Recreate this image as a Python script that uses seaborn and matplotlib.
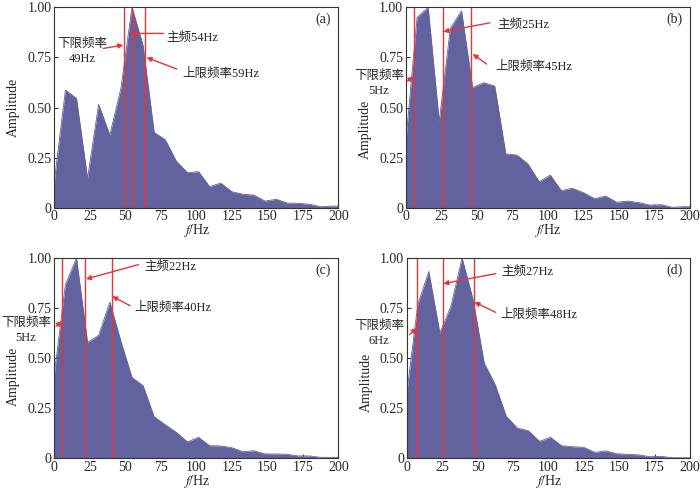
import numpy as np
import pandas as pd
import matplotlib
matplotlib.use("Agg")
import matplotlib.pyplot as plt
import seaborn as sns

# Frequency axis (Hz)
freq = [0, 7.8, 15.6, 23.4, 31.2, 39.1, 46.9, 54.7, 62.5, 70.3, 78.1, 85.9, 93.8,
        101.6, 109.4, 117.2, 125.0, 132.8, 140.6, 148.4, 156.3, 164.1, 171.9,
        179.7, 187.5, 195.3, 200]

amp_a = [0.13, 0.587, 0.546, 0.146, 0.516, 0.363, 0.596, 1.0, 0.81, 0.376, 0.34,
         0.233, 0.175, 0.18, 0.105, 0.123, 0.08, 0.067, 0.063, 0.033, 0.042, 0.023,
         0.022, 0.017, 0.005, 0.008, 0.008]
amp_b = [0.34, 0.95, 1.0, 0.43, 0.895, 0.983, 0.60, 0.624, 0.607, 0.268, 0.263,
         0.218, 0.13, 0.163, 0.085, 0.097, 0.075, 0.045, 0.058, 0.027, 0.033, 0.025,
         0.013, 0.015, 0.002, 0.005, 0.005]
amp_c = [0.42, 0.867, 1.0, 0.579, 0.614, 0.78, 0.584, 0.404, 0.363, 0.208, 0.168,
         0.13, 0.082, 0.105, 0.063, 0.062, 0.053, 0.033, 0.038, 0.022, 0.022, 0.02,
         0.012, 0.012, 0.005, 0.005, 0.005]
amp_d = [0.32, 0.767, 0.933, 0.626, 0.759, 1.0, 0.792, 0.476, 0.368, 0.21, 0.151,
         0.138, 0.085, 0.105, 0.063, 0.058, 0.055, 0.03, 0.037, 0.023, 0.02, 0.017,
         0.008, 0.01, 0.003, 0.003, 0.003]

panel_labels = ["(a)", "(b)", "(c)", "(d)"]
# vertical marker lines: lower limit, main freq, upper limit
lines_a = [49, 54.5, 64]
lines_b = [5.4, 25.8, 45.8]
lines_c = [5.4, 21.8, 40.4]
lines_d = [7.1, 25.6, 47.8]

lower_text = ["下限频率\n49Hz", "下限频率\n5Hz", "下限频率\n5Hz", "下限频率\n6Hz"]
main_text = ["主频54Hz", "主频25Hz", "主频22Hz", "主频27Hz"]
upper_text = ["上限频率59Hz", "上限频率45Hz", "上限频率40Hz", "上限频率48Hz"]

sns.set_style("ticks")
plt.rcParams["font.family"] = ["Liberation Serif", "Noto Sans CJK SC"]
plt.rcParams["mathtext.fontset"] = "stix"
plt.rcParams["xtick.direction"] = "in"
plt.rcParams["ytick.direction"] = "in"

FILL = "#62629f"
RED = "#e8333a"

fig = plt.figure(figsize=(7.0, 4.91), dpi=100)
positions = [
    [0.0776, 0.577, 0.4057, 0.408],
    [0.580, 0.577, 0.4057, 0.408],
    [0.0776, 0.0665, 0.4057, 0.408],
    [0.581, 0.0665, 0.4046, 0.408],
]
amps = [amp_a, amp_b, amp_c, amp_d]
vlines = [lines_a, lines_b, lines_c, lines_d]
ylabel_pos = [0.5, 0.39, 0.41, 0.38]

# annotation layout (data coords): (text xy, arrow tail, arrow head)
lower_ann = [
    dict(txt=(20, 0.78), tail=(34.5, 0.795), head=(48.6, 0.812)),
    dict(txt=(-19, 0.62), tail=(1.0, 0.632), head=(5.2, 0.654)),
    dict(txt=(-20, 0.64), tail=(1.2, 0.659), head=(5.4, 0.684)),
    dict(txt=(-19.3, 0.623), tail=(1.9, 0.617), head=(7.0, 0.65)),
]
main_ann = [
    dict(txt=(79, 0.849), tail=(76.8, 0.87), head=(54.5, 0.87)),
    dict(txt=(64.6, 0.912), tail=(59.2, 0.923), head=(26.3, 0.879)),
    dict(txt=(63.4, 0.953), tail=(59.2, 0.967), head=(22.3, 0.895)),
    dict(txt=(67.0, 0.928), tail=(62.8, 0.922), head=(25.9, 0.872)),
]
upper_ann = [
    dict(txt=(90.4, 0.67), tail=(86.2, 0.692), head=(65, 0.75)),
    dict(txt=(63.1, 0.704), tail=(56.8, 0.717), head=(47, 0.767)),
    dict(txt=(56.3, 0.75), tail=(53.3, 0.762), head=(40.8, 0.809)),
    dict(txt=(65.9, 0.717), tail=(62.8, 0.729), head=(47.8, 0.78)),
]

for i in range(4):
    ax = fig.add_axes(positions[i])
    df = pd.DataFrame({"f": freq, "A": amps[i]})
    sns.lineplot(data=df, x="f", y="A", ax=ax, color=FILL, lw=0.6)
    ax.fill_between(df["f"], 0, df["A"], color=FILL, lw=0)
    for xv in vlines[i]:
        ax.axvline(xv, color=RED, lw=1.0)
    ax.set_xlim(0, 200)
    ax.set_ylim(0, 1.0)
    ax.set_xticks([0, 25, 50, 75, 100, 125, 150, 175, 200])
    ax.set_yticks([0, 0.25, 0.5, 0.75, 1.0])
    ax.set_yticklabels(["0", "0.25", "0.50", "0.75", "1.00"])
    ax.tick_params(labelsize=10, length=3, width=0.8, color="#333333", pad=2)
    for s in ax.spines.values():
        s.set_color("#333333")
        s.set_linewidth(0.8)
    ax.set_xlabel("$f$/Hz", fontsize=10, labelpad=-1)
    ax.set_ylabel("Amplitude", fontsize=10, labelpad=3)
    ax.yaxis.set_label_coords(-0.12, ylabel_pos[i])
    ax.text(0.975, 0.94, panel_labels[i], transform=ax.transAxes,
            ha="right", va="center", fontsize=10)

    arrowprops = dict(arrowstyle="-|>", color=RED, lw=1.0,
                      mutation_scale=7, shrinkA=0, shrinkB=0)
    la = lower_ann[i]
    ax.annotate("", xy=la["head"], xytext=la["tail"], arrowprops=arrowprops,
                annotation_clip=False)
    ax.text(la["txt"][0], la["txt"][1], lower_text[i], ha="center", va="center",
            fontsize=9, linespacing=1.35, clip_on=False)
    ma = main_ann[i]
    ax.annotate("", xy=ma["head"], xytext=ma["tail"], arrowprops=arrowprops)
    ax.text(ma["txt"][0], ma["txt"][1], main_text[i], ha="left", va="center", fontsize=9)
    ua = upper_ann[i]
    ax.annotate("", xy=ua["head"], xytext=ua["tail"], arrowprops=arrowprops)
    ax.text(ua["txt"][0], ua["txt"][1], upper_text[i], ha="left", va="center", fontsize=9)

fig.savefig("out.png", dpi=100, facecolor="white")
